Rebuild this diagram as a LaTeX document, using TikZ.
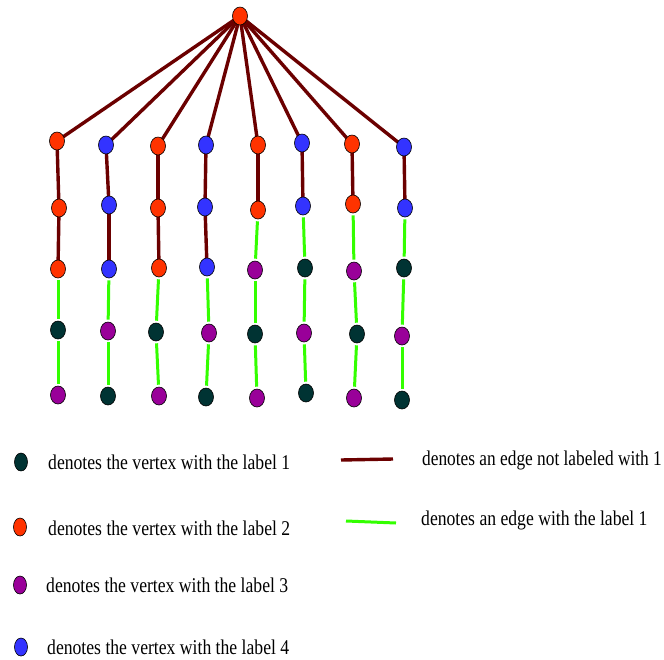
\documentclass[tikz,border=0pt]{standalone}
\usepackage{fontspec}
\setmainfont{Liberation Serif}
\usetikzlibrary{shapes.geometric,backgrounds}
\definecolor{lone}{HTML}{003333}
\definecolor{ltwo}{HTML}{FF3300}
\definecolor{lthree}{HTML}{990099}
\definecolor{lfour}{HTML}{3333FF}
\definecolor{emaroon}{HTML}{6B0000}
\definecolor{egreen}{HTML}{33FF00}
\begin{document}
\begin{tikzpicture}[x=1pt,y=-1pt,
  vtx/.style={ellipse, draw=black, line width=0.6pt, minimum width=15pt, minimum height=18pt, inner sep=0pt},
  vA/.style={vtx, fill=lone},
  vB/.style={vtx, fill=ltwo},
  vC/.style={vtx, fill=lthree},
  vD/.style={vtx, fill=lfour},
  emx/.style={draw=emaroon, line width=3.4pt},
  egx/.style={draw=egreen, line width=3pt, shorten <=2pt, shorten >=2pt},
  legtext/.style={anchor=west, inner sep=0pt, font=\fontsize{21}{24}\selectfont}
]
\useasboundingbox (0,0) rectangle (664,659);
% vertices
\node[vB] (r) at (240,16) {};
% column 1
\node[vB] (a1) at (57,141) {};
\node[vB] (a2) at (59,208) {};
\node[vB] (a3) at (58,269) {};
\node[vA] (a4) at (58,330) {};
\node[vC] (a5) at (58,395) {};
% column 2
\node[vD] (b1) at (106,145) {};
\node[vD] (b2) at (109,205) {};
\node[vD] (b3) at (109,269) {};
\node[vC] (b4) at (108,331) {};
\node[vA] (b5) at (108,396) {};
% column 3
\node[vB] (c1) at (158,146) {};
\node[vB] (c2) at (158,208) {};
\node[vB] (c3) at (159,268) {};
\node[vA] (c4) at (156,332) {};
\node[vC] (c5) at (159,396) {};
% column 4
\node[vD] (d1) at (206,145) {};
\node[vD] (d2) at (205,207) {};
\node[vD] (d3) at (207,267) {};
\node[vC] (d4) at (209,333) {};
\node[vA] (d5) at (206,397) {};
% column 5
\node[vB] (e1) at (258,145) {};
\node[vB] (e2) at (258,210) {};
\node[vC] (e3) at (255,270) {};
\node[vA] (e4) at (255,334) {};
\node[vC] (e5) at (257,398) {};
% column 6
\node[vD] (f1) at (302,143) {};
\node[vD] (f2) at (303,206) {};
\node[vA] (f3) at (305,268) {};
\node[vC] (f4) at (304,333) {};
\node[vA] (f5) at (306,393) {};
% column 7
\node[vB] (g1) at (352,144) {};
\node[vB] (g2) at (353,204) {};
\node[vC] (g3) at (354,271) {};
\node[vA] (g4) at (357,334) {};
\node[vC] (g5) at (354,398) {};
% column 8
\node[vD] (h1) at (404,147) {};
\node[vD] (h2) at (405,208) {};
\node[vA] (h3) at (404,268) {};
\node[vC] (h4) at (402,336) {};
\node[vA] (h5) at (402,400) {};
% edges (behind the vertices)
\begin{pgfonlayer}{background}
\foreach \c in {a,b,c,d,e,f,g,h} {
  \draw[emx] (r.center) -- (\c1.center);
  \draw[emx] (\c1.center) -- (\c2.center);
}
\foreach \c in {a,b,c,d} { \draw[emx] (\c2.center) -- (\c3.center); }
\foreach \c in {e,f,g,h} { \draw[egx] (\c2) -- (\c3); }
\foreach \c in {a,b,c,d,e,f,g,h} {
  \draw[egx] (\c3) -- (\c4);
  \draw[egx] (\c4) -- (\c5);
}
\end{pgfonlayer}
% legend
\node[vA, minimum width=13pt] (k1) at (21,462) {};
\node[vB, minimum width=13pt] (k2) at (20,527) {};
\node[vC, minimum width=13pt] (k3) at (20,585) {};
\node[vD, minimum width=13pt] (k4) at (21,647) {};
\node[legtext] (t1) at (48,462) {\scalebox{0.84}[1]{denotes the vertex with the label 1}};
\node[legtext] (t2) at (48,528) {\scalebox{0.84}[1]{denotes the vertex with the label 2}};
\node[legtext] (t3) at (46,585) {\scalebox{0.84}[1]{denotes the vertex with the label 3}};
\node[legtext] (t4) at (47,647) {\scalebox{0.84}[1]{denotes the vertex with the label 4}};
\coordinate (m1) at (341,460);
\coordinate (m2) at (393,459);
\draw[draw=emaroon, line width=3.4pt] (m1) -- (m2);
\coordinate (g1a) at (346,521);
\coordinate (g1b) at (396,523);
\draw[draw=egreen, line width=3pt] (g1a) -- (g1b);
\node[legtext] (t5) at (422,460) {\scalebox{0.825}[1]{denotes an edge not labeled with 1}};
\node[legtext] (t6) at (421,520) {\scalebox{0.84}[1]{denotes an edge with the label 1}};
\end{tikzpicture}
\end{document}
